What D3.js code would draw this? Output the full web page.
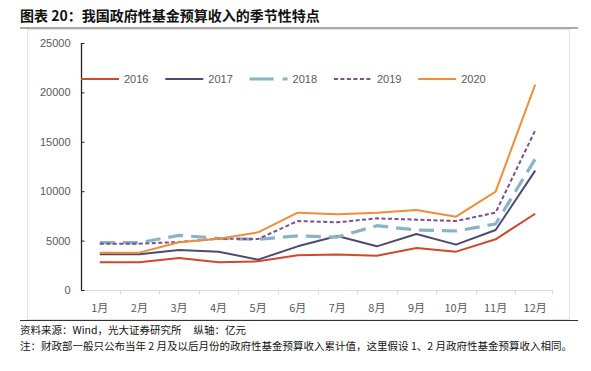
<!DOCTYPE html>
<html>
<head>
<meta charset="utf-8">
<script src="https://cdn.jsdelivr.net/npm/d3@7"></script>
<style>
  body { margin: 0; background: #fff; }
  svg text { font-family: "Liberation Sans", Arial, "Noto Sans CJK SC", sans-serif; }
  .cjk { font-family: "Noto Sans CJK SC", sans-serif; }
</style>
</head>
<body>
<svg id="chart" width="591" height="371"></svg>
<script>
var WIDTH = 591;
var HEIGHT = 371;

var months = ['1月', '2月', '3月', '4月', '5月', '6月', '7月', '8月', '9月', '10月', '11月', '12月'];
var yTicks = [0, 5000, 10000, 15000, 20000, 25000];

var years = ['2016', '2017', '2018', '2019', '2020'];
var v2016 = [2800, 2800, 3240, 2800, 2900, 3510, 3600, 3470, 4250, 3880, 5130, 7720];
var v2017 = [3610, 3610, 4050, 3880, 3070, 4420, 5470, 4420, 5670, 4590, 6070, 12080];
var v2018 = [4790, 4790, 5530, 5230, 5130, 5470, 5360, 6510, 6070, 5970, 6680, 13260];
var v2019 = [4690, 4690, 4860, 5190, 5160, 6980, 6850, 7250, 7120, 6980, 7830, 16160];
var v2020 = [3780, 3780, 4830, 5190, 5840, 7830, 7660, 7830, 8100, 7420, 9950, 20780];

var series = [
  {name: years[0], values: v2016, color: '#cf4a2a', width: 2, dash: null},
  {name: years[1], values: v2017, color: '#4d4a72', width: 2, dash: null},
  {name: years[2], values: v2018, color: '#88b3c8', width: 3.2, dash: '15,8'},
  {name: years[3], values: v2019, color: '#7e4e8e', width: 2, dash: '4,2.5'},
  {name: years[4], values: v2020, color: '#f28c36', width: 2, dash: null}
];

var PLOT = {left: 81, right: 555, top: 43, bottom: 290};

var svg = d3.select('#chart');

// title + rules + frame
svg.append('text')
  .attr('class', 'cjk')
  .attr('x', 20)
  .attr('y', 21)
  .attr('font-size', 14)
  .attr('font-weight', 'bold')
  .attr('fill', '#111')
  .text('图表 20：我国政府性基金预算收入的季节性特点');

svg.append('line')
  .attr('x1', 20).attr('x2', 578)
  .attr('y1', 28).attr('y2', 28)
  .attr('stroke', '#555').attr('stroke-width', 1);

svg.append('rect')
  .attr('x', 27.5).attr('y', 29.5)
  .attr('width', 542).attr('height', 290)
  .attr('fill', 'none')
  .attr('stroke', '#e3e3e3');

svg.append('line')
  .attr('x1', 20).attr('x2', 578)
  .attr('y1', 320.5).attr('y2', 320.5)
  .attr('stroke', '#333').attr('stroke-width', 1);

var x = d3.scaleBand().domain(months).range([PLOT.left - 1, PLOT.right]);
var y = d3.scaleLinear().domain([0, 25000]).range([PLOT.bottom, PLOT.top]);

// x axis
var xAxisG = svg.append('g')
  .attr('transform', 'translate(0,' + (PLOT.bottom + 0.5) + ')');
xAxisG.append('line')
  .attr('x1', PLOT.left).attr('x2', PLOT.right - 2)
  .attr('stroke', '#d9d9d9');
xAxisG.selectAll('.xtick')
  .data(months.slice(1))
  .enter().append('line')
  .attr('x1', d => Math.round(x(d)) + 0.5)
  .attr('x2', d => Math.round(x(d)) + 0.5)
  .attr('y1', 0).attr('y2', 4)
  .attr('stroke', '#d9d9d9');
xAxisG.append('line')
  .attr('x1', PLOT.right - 2.5).attr('x2', PLOT.right - 2.5)
  .attr('y1', 0).attr('y2', 4)
  .attr('stroke', '#d9d9d9');
xAxisG.selectAll('.xlabel')
  .data(months)
  .enter().append('text')
  .attr('class', 'cjk')
  .attr('x', d => x(d) + x.bandwidth() / 2)
  .attr('y', 21)
  .attr('text-anchor', 'middle')
  .attr('font-size', 11)
  .attr('fill', '#595959')
  .text(d => d);

// y axis
var yAxis = d3.axisRight(y).tickValues(yTicks).tickSize(3).tickFormat(d3.format('d'));
var yAxisG = svg.append('g')
  .attr('transform', 'translate(' + (PLOT.left + 0.5) + ',0)')
  .call(yAxis);
yAxisG.select('.domain').attr('stroke', '#222').attr('stroke-width', 1.3)
  .attr('d', 'M0,' + (PLOT.bottom + 0.5) + 'V' + PLOT.top);
yAxisG.selectAll('.tick line').attr('stroke', '#222');
yAxisG.selectAll('.tick text')
  .attr('x', -11)
  .attr('text-anchor', 'end')
  .attr('font-size', 11)
  .attr('fill', '#595959');

// lines
var line = d3.line()
  .x((d, i) => x(months[i]) + x.bandwidth() / 2)
  .y(d => y(d));

svg.append('g').selectAll('path')
  .data(series)
  .enter().append('path')
  .attr('d', d => line(d.values))
  .attr('fill', 'none')
  .attr('stroke', d => d.color)
  .attr('stroke-width', d => d.width)
  .attr('stroke-dasharray', d => d.dash)
  .attr('stroke-linejoin', 'round');

// legend
var legend = svg.append('g').attr('transform', 'translate(81,79)');
var item = legend.selectAll('g')
  .data(series)
  .enter().append('g')
  .attr('transform', (d, i) => 'translate(' + (i * 84.3) + ',0)');
item.append('line')
  .attr('x1', 0).attr('x2', 38)
  .attr('stroke', d => d.color)
  .attr('stroke-width', d => d.width)
  .attr('stroke-dasharray', d => d.name === '2018' ? '24,9' : d.dash);
item.append('text')
  .attr('x', 43)
  .attr('y', 4)
  .attr('font-size', 11)
  .attr('fill', '#595959')
  .text(d => d.name);

// footnotes
var source = svg.append('text')
  .attr('class', 'cjk')
  .attr('x', 20).attr('y', 334)
  .attr('font-size', 10.5)
  .attr('fill', '#111');
source.append('tspan').text('资料来源：Wind，光大证券研究所');
source.append('tspan').attr('dx', 12).text('纵轴：亿元');

svg.append('text')
  .attr('class', 'cjk')
  .attr('x', 20).attr('y', 350)
  .attr('font-size', 10.5)
  .attr('fill', '#111')
  .text('注：财政部一般只公布当年 2 月及以后月份的政府性基金预算收入累计值，这里假设 1、2 月政府性基金预算收入相同。');
</script>
</body>
</html>
